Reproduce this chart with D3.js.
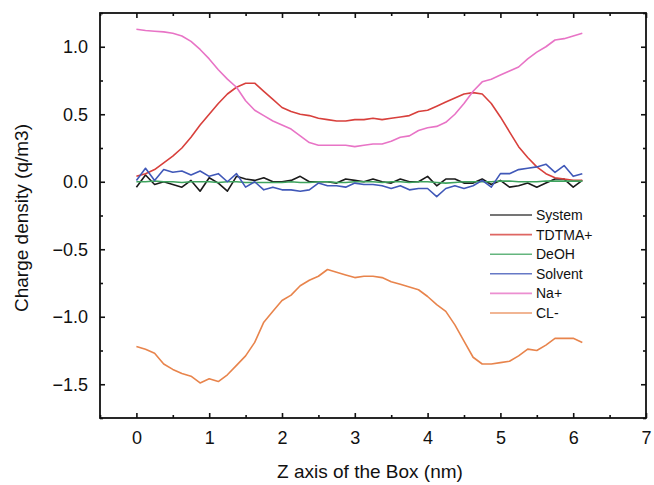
<!DOCTYPE html>
<html>
<head>
<meta charset="utf-8">
<script src="https://cdn.jsdelivr.net/npm/d3@7"></script>
<style>
  body { margin: 0; background: #fff; }
  text { font-family: "Liberation Sans", Arial, sans-serif; }
</style>
</head>
<body>
<script>
// z positions (nm)
const zVals = [0, 0.125, 0.25, 0.375, 0.5, 0.625, 0.75, 0.875, 1.0, 1.125, 1.25, 1.375, 1.5, 1.625, 1.75, 1.875,
  2.0, 2.125, 2.25, 2.375, 2.5, 2.625, 2.75, 2.875, 3.0, 3.125, 3.25, 3.375, 3.5, 3.625, 3.75, 3.875,
  4.0, 4.125, 4.25, 4.375, 4.5, 4.625, 4.75, 4.875, 5.0, 5.125, 5.25, 5.375, 5.5, 5.625, 5.75, 5.875, 6.0, 6.125];

const systemVals = [-0.04, 0.05, -0.02, 0.00, -0.02, -0.04, 0.01, -0.07, 0.03, -0.01, -0.07, 0.04, 0.02, 0.01, 0.03, 0.00,
  0.00, 0.01, 0.04, 0.00, 0.00, 0.00, -0.01, 0.02, 0.01, 0.00, 0.02, 0.00, -0.01, 0.02, 0.00, 0.00,
  0.04, -0.03, 0.02, 0.02, -0.01, -0.01, 0.02, -0.02, 0.01, -0.04, -0.03, -0.01, -0.04, -0.01, 0.02, 0.02, -0.04, 0.01];

const tdtmaVals = [0.04, 0.06, 0.09, 0.14, 0.19, 0.25, 0.33, 0.42, 0.50, 0.58, 0.65, 0.70, 0.73, 0.73, 0.67, 0.61,
  0.55, 0.52, 0.50, 0.49, 0.47, 0.46, 0.45, 0.45, 0.46, 0.46, 0.47, 0.46, 0.47, 0.48, 0.49, 0.52,
  0.53, 0.56, 0.59, 0.62, 0.65, 0.66, 0.65, 0.58, 0.48, 0.37, 0.26, 0.18, 0.11, 0.06, 0.03, 0.02, 0.01, 0.01];

const deohVals = [0.00, 0.00, 0.005, 0.00, 0.00, -0.005, 0.00, 0.00, 0.00, -0.005, 0.00, 0.00, -0.005, -0.005, -0.005, -0.005,
  -0.005, 0.00, -0.005, -0.005, 0.00, 0.00, -0.005, -0.005, 0.00, 0.00, 0.00, -0.005, 0.00, 0.00, -0.005, 0.00,
  0.00, -0.005, -0.01, -0.005, 0.00, 0.00, 0.00, 0.00, 0.005, 0.005, 0.00, 0.00, 0.00, 0.005, 0.005, 0.005, 0.005, 0.005];

const solventVals = [0.01, 0.10, 0.01, 0.09, 0.07, 0.08, 0.05, 0.08, 0.04, 0.06, 0.00, 0.06, -0.04, 0.00, -0.06, -0.04,
  -0.06, -0.06, -0.07, -0.06, -0.01, -0.03, -0.03, -0.04, -0.01, -0.02, -0.02, -0.03, -0.05, -0.03, -0.06, -0.05,
  -0.05, -0.11, -0.05, -0.03, -0.05, -0.03, 0.01, -0.04, 0.06, 0.06, 0.09, 0.10, 0.11, 0.13, 0.07, 0.12, 0.04, 0.06];

const naVals = [1.13, 1.12, 1.115, 1.11, 1.10, 1.08, 1.04, 0.98, 0.91, 0.83, 0.76, 0.70, 0.60, 0.53, 0.49, 0.45,
  0.42, 0.39, 0.34, 0.29, 0.27, 0.27, 0.27, 0.27, 0.26, 0.27, 0.28, 0.28, 0.30, 0.33, 0.34, 0.38,
  0.40, 0.41, 0.44, 0.50, 0.58, 0.67, 0.74, 0.76, 0.79, 0.82, 0.85, 0.91, 0.96, 1.00, 1.05, 1.06, 1.08, 1.10];

const clVals = [-1.22, -1.24, -1.27, -1.35, -1.39, -1.42, -1.44, -1.49, -1.46, -1.48, -1.43, -1.36, -1.29, -1.19, -1.04, -0.96,
  -0.88, -0.84, -0.77, -0.73, -0.70, -0.65, -0.67, -0.69, -0.71, -0.70, -0.70, -0.71, -0.74, -0.76, -0.78, -0.80,
  -0.85, -0.91, -0.96, -1.06, -1.18, -1.30, -1.35, -1.35, -1.34, -1.33, -1.29, -1.24, -1.25, -1.21, -1.16, -1.16, -1.16, -1.19];

const seriesNames = ['System', 'TDTMA+', 'DeOH', 'Solvent', 'Na+', 'CL-'];
const seriesColors = ['#1a1a1a', '#d8403c', '#3ea35e', '#4058b8', '#e874c6', '#e8844c'];
const seriesVals = [systemVals, tdtmaVals, deohVals, solventVals, naVals, clVals];

const xTicks = [0, 1, 2, 3, 4, 5, 6, 7];
const xMinor = [-0.5, 0.5, 1.5, 2.5, 3.5, 4.5, 5.5, 6.5];
const yTicks = [-1.5, -1.0, -0.5, 0.0, 0.5, 1.0];
const yMinor = [-1.75, -1.25, -0.75, -0.25, 0.25, 0.75, 1.25];

const width = 654, height = 485;
const plotL = 100, plotR = 646, plotT = 13, plotB = 418;

const svg = d3.select('body').append('svg')
  .attr('width', width)
  .attr('height', height);

const x = d3.scaleLinear().domain([-0.5, 7]).range([plotL, plotR]);
const y = d3.scaleLinear().domain([-1.75, 1.25]).range([plotB, plotT]);

function styleAxis(g) {
  g.select('.domain').remove();
  g.selectAll('line').attr('stroke', '#111').attr('stroke-width', 1.6);
  g.selectAll('text').attr('fill', '#111').style('font-size', '18px')
    .style('font-family', '"Liberation Sans", Arial, sans-serif');
}

// major + minor ticks on all four sides, pointing inward
svg.append('g').attr('transform', 'translate(0,' + plotB + ')')
  .call(d3.axisBottom(x).tickValues(xTicks).tickSize(-5).tickPadding(13).tickFormat(d3.format('d')))
  .call(styleAxis);
svg.append('g').attr('transform', 'translate(0,' + plotB + ')')
  .call(d3.axisBottom(x).tickValues(xMinor).tickSize(-3).tickFormat(''))
  .call(styleAxis);
svg.append('g').attr('transform', 'translate(0,' + plotT + ')')
  .call(d3.axisTop(x).tickValues(xTicks).tickSize(-5).tickFormat(''))
  .call(styleAxis);
svg.append('g').attr('transform', 'translate(0,' + plotT + ')')
  .call(d3.axisTop(x).tickValues(xMinor).tickSize(-3).tickFormat(''))
  .call(styleAxis);

svg.append('g').attr('transform', 'translate(' + plotL + ',0)')
  .call(d3.axisLeft(y).tickValues(yTicks).tickSize(-5).tickPadding(12).tickFormat(d3.format('.1f')))
  .call(styleAxis);
svg.append('g').attr('transform', 'translate(' + plotL + ',0)')
  .call(d3.axisLeft(y).tickValues(yMinor).tickSize(-3).tickFormat(''))
  .call(styleAxis);
svg.append('g').attr('transform', 'translate(' + plotR + ',0)')
  .call(d3.axisRight(y).tickValues(yTicks).tickSize(-5).tickFormat(''))
  .call(styleAxis);
svg.append('g').attr('transform', 'translate(' + plotR + ',0)')
  .call(d3.axisRight(y).tickValues(yMinor).tickSize(-3).tickFormat(''))
  .call(styleAxis);

// frame
svg.append('rect')
  .attr('x', plotL).attr('y', plotT)
  .attr('width', plotR - plotL).attr('height', plotB - plotT)
  .attr('fill', 'none').attr('stroke', '#111').attr('stroke-width', 1.8);

// lines
const line = d3.line()
  .x((d, i) => x(zVals[i]))
  .y((d) => y(d));

svg.selectAll('path.series')
  .data(seriesVals)
  .enter()
  .append('path')
  .attr('class', 'series')
  .attr('d', line)
  .attr('fill', 'none')
  .attr('stroke', (d, i) => seriesColors[i])
  .attr('stroke-width', 1.6)
  .attr('stroke-linejoin', 'round');

// legend
const legend = svg.append('g').attr('transform', 'translate(490,215)');
seriesNames.forEach((name, i) => {
  const row = legend.append('g').attr('transform', 'translate(0,' + (i * 19.6) + ')');
  row.append('line')
    .attr('x1', 0).attr('x2', 42).attr('y1', 0).attr('y2', 0)
    .attr('stroke', seriesColors[i]).attr('stroke-width', 1.6).attr('opacity', 0.8);
  row.append('text')
    .attr('x', 46).attr('y', 5)
    .style('font-size', '14px')
    .attr('fill', '#111')
    .text(name);
});

// axis titles
svg.append('text')
  .attr('x', 370).attr('y', 478)
  .attr('text-anchor', 'middle')
  .style('font-size', '19px')
  .attr('fill', '#111')
  .text('Z axis of the Box (nm)');

svg.append('text')
  .attr('transform', 'translate(28,' + 218 + ') rotate(-90)')
  .attr('text-anchor', 'middle')
  .style('font-size', '19px')
  .attr('fill', '#111')
  .text('Charge density (q/m3)');
</script>
</body>
</html>
